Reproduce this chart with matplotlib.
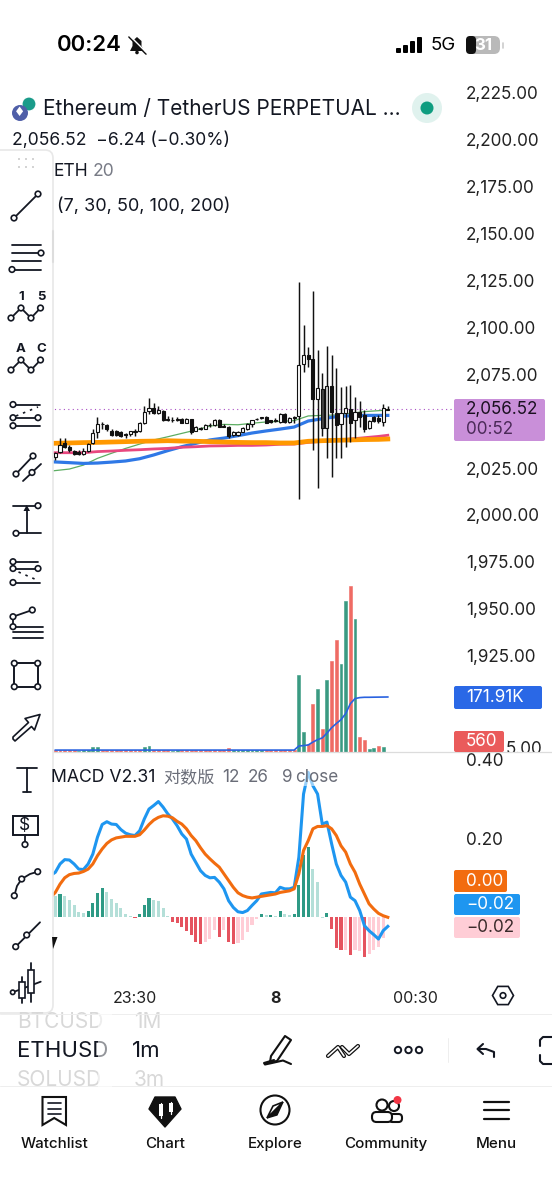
import numpy as np
import matplotlib
matplotlib.use("Agg")
import matplotlib.pyplot as plt
from matplotlib.patches import Circle, Rectangle, FancyBboxPatch, Polygon, RegularPolygon

plt.rcParams['font.family'] = ['Inter', 'Noto Sans CJK SC', 'DejaVu Sans']

# ---------- price data ----------
opens = [2031.1,2033.4,2038.2,2036.4,2034.1,2033.4,2032.5,2034.3,2038.2,2044.1,2048.3,2048.0,2045.0,2044.6,2044.2,2043.2,2043.2,2044.4,
         2044.6,2049.2,2055.4,2057.2,2054.2,2055.4,2051.2,2050.8,2050.8,2051.0,2049.2,2051.0,2045.0,2046.2,2046.0,2047.8,2047.8,2050.6,
         2047.6,2047.1,2042.5,2042.8,2044.4,2046.0,2048.3,2051.0,2051.7,2052.2,2050.4,2050.1,2049.7,2053.7,2049.7,2052.2,2052.8,2080.3,
         2085.3,2083.0,2061.6,2067.2,2046.2,2068.8,2054.2,2048.3,2054.5,2056.3,2050.6,2055.1,2053.3,2046.2,2052.1,2051.9,2049.7,2056.0]
highs = [2033.8,2040.9,2040.9,2037.3,2034.6,2034.6,2035.9,2038.2,2045.7,2052.4,2049.7,2048.5,2045.7,2045.3,2044.8,2043.5,2045.0,2045.7,
         2049.7,2058.1,2062.2,2059.9,2058.1,2056.0,2052.9,2052.4,2052.4,2051.5,2051.5,2051.3,2047.4,2046.7,2048.5,2049.2,2051.2,2051.0,
         2048.5,2047.4,2044.6,2045.0,2047.1,2049.2,2050.8,2051.9,2052.4,2052.8,2050.8,2051.5,2054.2,2054.2,2052.4,2052.8,2124.0,2101.3,
         2089.4,2119.6,2088.0,2075.9,2090.1,2085.3,2078.2,2068.4,2068.8,2069.1,2063.1,2060.9,2056.0,2050.6,2052.8,2053.3,2059.2,2058.1]
lows = [2029.3,2032.9,2035.5,2033.8,2032.0,2031.8,2031.8,2033.8,2037.8,2040.9,2045.7,2045.0,2042.3,2042.1,2041.4,2041.2,2042.3,2042.3,
        2044.1,2048.5,2053.8,2053.8,2053.7,2050.3,2050.1,2049.7,2050.3,2048.9,2048.9,2043.0,2044.6,2045.3,2045.7,2047.1,2047.4,2046.7,
        2046.7,2040.9,2042.1,2042.3,2044.1,2045.3,2047.1,2050.6,2051.0,2048.9,2049.2,2049.6,2048.9,2049.2,2049.2,2049.2,2008.3,2076.4,
        2079.1,2034.6,2014.6,2042.1,2030.2,2020.4,2030.2,2030.2,2036.4,2039.1,2040.9,2047.1,2044.4,2045.7,2049.7,2048.9,2047.4,2056.0]
closes = [2032.9,2037.3,2036.4,2034.6,2032.3,2032.3,2034.3,2037.8,2043.5,2048.5,2048.5,2045.7,2042.6,2042.6,2042.3,2042.8,2044.6,2044.8,
          2049.2,2055.1,2057.2,2054.2,2056.0,2050.6,2050.8,2050.6,2051.2,2049.2,2051.0,2044.4,2046.7,2045.7,2047.8,2048.2,2050.6,2047.1,
          2047.1,2042.1,2044.2,2044.2,2046.2,2048.5,2050.4,2051.2,2051.9,2049.2,2049.6,2050.6,2053.7,2049.7,2051.5,2051.7,2080.0,2085.3,
          2083.0,2061.6,2067.9,2046.2,2068.8,2055.1,2048.0,2054.5,2057.2,2049.2,2055.1,2052.4,2045.7,2050.3,2050.3,2050.3,2056.9,2056.52]

ma_idx = [-1,3,6,9,12,15,18,21,24,27,30,33,36,39,42,45,48,51,54,57,60,63,66,69,71]
ma_green = [2023.4,2024.5,2026.6,2030.2,2032.9,2035.5,2037.8,2040.0,2041.7,2043.5,2045.3,2047.4,2048.3,2048.1,2048.9,2049.6,2049.9,2050.3,2052.8,2053.1,2053.3,2054.2,2055.1,2055.6,2056.0]
ma_blue = [2028.4,2027.9,2027.5,2027.7,2028.2,2028.8,2030.0,2032.0,2034.3,2036.4,2038.2,2040.0,2041.0,2042.3,2043.7,2044.8,2045.8,2046.9,2050.1,2051.3,2052.4,2052.9,2053.1,2053.1,2053.1]
ma_pink = [2033.2,2033.2,2033.2,2033.8,2034.1,2034.5,2034.8,2035.2,2035.5,2036.1,2036.4,2036.8,2036.9,2037.1,2037.1,2037.3,2037.7,2037.8,2038.7,2039.3,2039.8,2040.5,2041.2,2041.9,2042.5]
ma_orange = [2038.2,2038.4,2038.6,2038.7,2038.9,2039.1,2039.3,2039.4,2039.6,2039.4,2039.3,2039.1,2038.9,2038.7,2038.6,2038.6,2038.4,2038.4,2039.3,2039.6,2039.8,2040.0,2040.2,2040.3,2040.5]

price_ticks = [2225,2200,2175,2150,2125,2100,2075,2025,2000,1975,1950,1925]

# ---------- volume data (thousands) ----------
volume = [6,6,6,6,6,3,5,6,16,17,6,6,6,6,6,6,6,6,6,17,20,6,6,6,6,3,5,6,6,6,6,6,6,6,6,6,6,11,6,6,5,5,5,5,5,5,5,5,5,5,5,5,
          240,62,26,149,197,73,226,283,349,276,471,519,417,47,36,10,13,19,17,0.56]
vol_dir = "RRRRRGGGGGRRRRRRRRRGGRRRRGGRRRRRRRRRRRGGGGGGGRRRRRRR"[:52] + "GGRRGRGRRGGRGRRGGRGR"
vol_ma = [6]*52 + [18.8,20,22,31,38.6,44,59,76,89,101,120,151,167,170,171,171,171.3,171.5,171.7,171.91]

# ---------- MACD data ----------
macd_line = [.106,.114,.135,.146,.145,.135,.122,.121,.135,.160,.203,.235,.242,.236,.235,.222,.213,.209,.207,.219,.249,.274,.283,.293,.279,.262,.249,.232,.211,.198,
             .160,.139,.118,.106,.100,.101,.089,.072,.042,.025,.014,.012,.017,.030,.042,.059,.061,.063,.062,.076,.072,.072,.076,.152,.312,.367,.333,.312,.236,.241,
             .186,.135,.106,.089,.051,.042,.017,-.021,-.034,-.044,-.055,-.034,-.023]
signal_line = [.051,.063,.084,.100,.108,.111,.112,.116,.122,.135,.156,.173,.187,.196,.201,.203,.205,.205,.205,.209,.221,.235,.246,.253,.257,.256,.252,.243,.236,.224,
               .207,.194,.176,.160,.148,.137,.127,.110,.093,.076,.062,.055,.051,.049,.051,.053,.055,.057,.059,.063,.065,.067,.072,.110,.169,.194,.224,.230,.230,.232,
               .224,.207,.181,.165,.135,.114,.084,.059,.034,.021,.010,.004,.000]
hist = [.055,.059,.054,.044,.030,.013,.010,.016,.037,.062,.073,.065,.046,.037,.023,.008,.003,-.003,.008,.031,.049,.044,.042,.023,.004,
        -.013,-.015,-.025,-.034,-.045,-.062,-.068,-.062,-.056,-.032,-.049,-.032,-.062,-.068,-.064,-.057,-.036,-.019,-.005,
        .008,.005,.007,.004,.015,.008,.006,.008,.082,.158,.179,.122,.090,-.001,.010,
        -.030,-.078,-.083,-.083,-.095,-.083,-.085,-.100,-.093,-.083,-.074,-.053,-.003]
hist_kind = list("gGggggg" "GGGG" "gggggg" "R" "GGG" "gggg" "RRRRRRR" "rrr" "R" "r" "RR" "rrrrr" "GgGgGgg" "GGGG" "gg" "g" "G" "RRR" "r" "R" "rr" "R" "rrrrr")
macd_ticks = [0.40, 0.20]
time_ticks = [17, 47, 77]
time_labels = ['23:30', '8', '00:30']

W, H = 552, 1200
fig = plt.figure(figsize=(W/100, H/100), dpi=100, facecolor='white')

def rect(top, bottom):
    return [0, 1-bottom/H, 1, (bottom-top)/H]

XL = (-11.82, 106.06)
idx = np.arange(len(opens))
TS = 12.3

# ---------- volume pane ----------
av = fig.add_axes(rect(60, 752), zorder=1)
av.set_xlim(XL); av.set_ylim(0, 692*3.125); av.axis('off')
vcol = ['#3a9a82' if d == 'G' else '#ef6b64' for d in vol_dir]
av.bar(idx, volume, width=0.62, color=vcol, edgecolor=vcol, linewidth=0.4)
av.plot(idx, vol_ma, color='#2962e0', lw=1.2)

# ---------- price pane ----------
ap = fig.add_axes(rect(60, 752), zorder=2)
ap.patch.set_alpha(0)
ap.set_xlim(XL); ap.set_ylim(2000+(515-752)/1.876, 2000+(515-60)/1.876)
for s in ap.spines.values(): s.set_visible(False)
ap.set_xticks([])
ap.set_yticks(price_ticks)
ap.set_yticklabels([f'{p:,.2f}' for p in price_ticks], fontsize=TS, color='#222222')
ap.yaxis.tick_right()
ap.tick_params(axis='y', length=0, pad=-62)
ap.text(96.2, 1875, '5.00', fontsize=TS, color='#222222', va='center', ha='left')
ap.plot(ma_idx, ma_green, color='#5cad62', lw=0.9, zorder=2)
ap.plot(ma_idx, ma_blue, color='#2f78e6', lw=2.3, zorder=3)
ap.plot(ma_idx, ma_pink, color='#e8487f', lw=2.0, zorder=4)
ap.plot(ma_idx, ma_orange, color='#ff9800', lw=3.4, zorder=5)
ap.axhline(closes[-1], xmin=0.09, xmax=0.83, color='#a94fc4', lw=0.8, ls=(0, (1, 3)), zorder=1)
ap.vlines(idx, lows, highs, color='#111111', lw=1.05, zorder=6)
bot = np.minimum(opens, closes); top = np.maximum(opens, closes)
fc = ['white' if c >= o else '#111111' for o, c in zip(opens, closes)]
fc[58] = '#c8c8c8'; fc[57] = '#444444'
ap.bar(idx, np.maximum(top-bot, 0.3), bottom=bot, width=0.66, color=fc, edgecolor='#111111', linewidth=0.8, zorder=7)

# ---------- MACD pane ----------
am = fig.add_axes(rect(752, 985), zorder=3)
am.set_xlim(XL); am.set_ylim((917.3-985)/395, (917.3-752)/395)
am.set_facecolor('white')
for k, s in am.spines.items(): s.set_visible(k == 'top')
am.spines['top'].set_color('#dcdcdc'); am.spines['top'].set_linewidth(0.9)
hc = {'G': '#2e9a85', 'g': '#b4dfd8', 'R': '#e5535f', 'r': '#ffcdd6'}
am.bar(idx, hist, width=0.66, color=[hc[k] for k in hist_kind])
mx = np.arange(len(macd_line)) - 1
am.plot(mx, macd_line, color='#1e96f0', lw=2.2, solid_joinstyle='round')
am.plot(mx, signal_line, color='#f26c0f', lw=2.2, solid_joinstyle='round')
am.set_yticks(macd_ticks); am.set_yticklabels(['0.40', '0.20'], fontsize=TS, color='#222222')
am.yaxis.tick_right(); am.tick_params(axis='y', length=0, pad=-62)
am.set_xticks(time_ticks); am.set_xticklabels(time_labels, fontsize=11.5, color='#222222')
am.tick_params(axis='x', length=0, pad=4)
am.get_xticklabels()[1].set_fontweight('bold')

# ---------- interface overlay ----------
ui = fig.add_axes([0, 0, 1, 1], zorder=10)
ui.set_xlim(0, W); ui.set_ylim(H, 0); ui.axis('off'); ui.patch.set_alpha(0)
K = '#131722'

def L(xs, ys, lw=1.3, c=K, **kw):
    ui.plot(xs, ys, color=c, lw=lw, solid_capstyle='round', **kw)
def C(x, y, r=2.8, lw=1.2, ec=K, fc='white', z=5):
    ui.add_patch(Circle((x, y), r, fc=fc, ec=ec, lw=lw, zorder=z))
def T(x, y, s, size=12, c=K, ha='left', w='normal', va='center', **kw):
    return ui.text(x, y, s, fontsize=size, color=c, ha=ha, va=va, fontweight=w, **kw)
def box(x0, y0, x1, y1, fc, r=2, ec='none', lw=0, z=2):
    ui.add_patch(FancyBboxPatch((x0+r, y0+r), x1-x0-2*r, y1-y0-2*r, boxstyle=f'round,pad={r},rounding_size={r}',
                                fc=fc, ec=ec, lw=lw, zorder=z))

# status bar
T(57, 45, '00:24', 16, '#000000', w='semibold')
bx = 137
ui.add_patch(Polygon([(bx-7, 51), (bx-4.5, 46), (bx-4.5, 41), (bx, 37), (bx+4.5, 41), (bx+4.5, 46), (bx+7, 51)], fc='#111111', ec='none'))
L([bx-8, bx+9], [37, 54], 1.2, '#111111'); L([bx-7, bx+10], [36, 53], 1.0, 'white')
C(bx, 52.5, 1.8, 0, fc='#111111')
for i, (x, h) in enumerate(zip([396, 403, 410, 417], [5, 8, 12, 16])):
    box(x, 53-h, x+5, 53, '#000000', r=1)
T(431, 46, '5G', 13.5, '#000000')
box(466, 36, 500, 54, '#b9b9b9', r=6)
box(466, 36, 476, 54, '#111111', r=4)
T(483, 45, '31', 12, 'white', ha='center', w='bold')
L([503, 503], [43, 48], 1.2, '#cccccc')

# title block
C(20, 113, 8, 0, fc='#4f5fa8'); C(29, 104, 7, 0.8, ec='white', fc='#1a9b8a', z=4)
T(20, 113, '♦', 9, 'white', ha='center', family='DejaVu Sans', zorder=6)
T(43, 109, 'Ethereum / TetherUS PERPETUAL ...', 15.0)
C(427, 108, 15, 0, fc='#e0f2ee'); C(427, 108, 6.5, 0, fc='#0f9d80')
T(12, 140, '2,056.52  −6.24 (−0.30%)', 12.6)
T(53.5, 171, 'ETH', 12.6); T(93, 171, '20', 12.6, '#787b86')
T(57, 206, '(7, 30, 50, 100, 200)', 13)

# left toolbar
box(-10, 150, 53, 1013, 'white', r=8, ec='#e8e8e8', lw=1.2, z=2)
L([53, 53], [231, 262], 1.5, '#dddddd')
for x in (19, 26, 33):
    for y in (159, 167):
        C(x, y, 0.9, 0, fc='#bcbcbc')
def seg(*pts, lw=1.3):
    L([p[0] for p in pts], [p[1] for p in pts], lw)
seg((14, 218), (38, 194)); C(14, 218); C(38, 194)
for y in (244.5, 252.8, 261, 269.5): seg((12, y), (41, y))
C(41, 253); C(12, 269.5)
for yb, yt, labs, ty in ((318, 308, ('1', '5'), 296.5), (370, 360, ('A', 'C'), 349)):
    xs = [11, 21, 31, 40.5]; ys = [yb, yt, yb, yt]
    seg(*zip(xs, ys))
    for a, b in zip(xs, ys): C(a, b)
    T(21, ty, labs[0], 9.5, ha='center', w='bold'); T(41.5, ty, labs[1], 9.5, ha='center', w='bold')
seg((13, 404.5), (39.5, 404.5)); C(13, 404.5)
seg((13, 417.7), (38, 417.7)); C(13, 417.7); C(38, 417.7)
seg((13, 425.7), (40, 425.7)); C(13, 425.7)
L([16, 38], [416, 407], 1.2, ls=(0, (1.5, 3)))
seg((16, 474), (33, 456)); C(16, 474); C(33, 456)
seg((23, 481), (41, 464)); C(32, 472.5)
seg((13, 505.7), (38, 505.7)); C(38, 505.7)
seg((16, 533.3), (41, 533.3)); C(16, 533.3)
seg((26.7, 533), (26.7, 510))
ui.add_patch(Polygon([(26.7, 505), (23.5, 511), (30, 511)], fc=K, ec='none', zorder=4))
seg((13, 561.7), (38, 561.7)); C(13, 561.7)
seg((13, 568.5), (38, 568.5)); C(13, 568.5); C(38, 568.5)
seg((13, 582.5), (39.5, 582.5)); C(13, 582.5)
L([18.5, 37], [572, 580], 1.2, ls=(0, (1.5, 3)))
seg((13, 616.7), (32.3, 610)); seg((13, 616.7), (13, 626.7)); C(32.3, 610); C(13, 616.7); C(13, 626.7)
for y in (626.7, 631.7, 637.7): seg((13, y), (42.7, y))
ui.add_patch(Rectangle((14.3, 663.3), 23.4, 23.4, fc='none', ec=K, lw=1.4))
for a in (14.3, 37.7):
    for b in (663.3, 686.7): C(a, b)
ui.add_patch(Polygon([(13, 739), (15, 741), (31.5, 726.5), (34.5, 730), (40, 714.5), (25, 718.5), (28.5, 722.5), (13, 737)],
                     fc='white', ec=K, lw=1.2, joinstyle='round'))
seg((17, 767.7), (37.3, 767.7)); seg((27, 767.7), (27, 791.7)); seg((23.3, 791.7), (30.7, 791.7))
ui.add_patch(Rectangle((12.7, 816), 25, 19, fc='white', ec=K, lw=1.4))
T(25, 825.5, '$', 12.5, ha='center', zorder=6)
seg((25, 835), (25, 841)); C(25, 844.5)
seg((14.3, 895.7), (17, 886), (21.7, 879), (30, 874), (37.7, 871.7))
C(14.3, 895.7); C(21.7, 879); C(37.7, 871.7)
seg((15.7, 946.7), (40, 922.3)); C(15.7, 946.7); C(26.7, 935)
seg((12.7, 992.3), (40.7, 981.7)); C(12.7, 992.3, 2.2)
seg((21.7, 976.7), (21.7, 1003.3)); seg((31, 963.3), (31, 1001.7))
ui.add_patch(Rectangle((19, 982.3), 5.5, 16, fc='white', ec=K, lw=1.2, zorder=5))
ui.add_patch(Rectangle((28.2, 970), 5.5, 23.3, fc='white', ec=K, lw=1.2, zorder=5))

# legend & stray marker on MACD pane
T(51, 777, 'MACD V2.31', 12.7, zorder=6)
T(163, 777, '对数版', 12.3, '#6a6d78', family=['Noto Sans CJK SC', 'DejaVu Sans'], zorder=6)
T(222, 777, '12', 12.3, '#6a6d78'); T(248, 777, '26', 12.3, '#6a6d78'); T(282, 777, '9', 12.3, '#6a6d78')
ui.add_patch(Rectangle((299, 768), 40, 18, fc='white', ec='none', alpha=0.55, zorder=4))
T(295, 777, 'close', 12.3, '#6a6d78', zorder=6)
ui.add_patch(Polygon([(52, 937), (57.5, 937), (53, 949)], fc='#111111', ec='none', zorder=3))

# price tags
box(454, 399, 545, 441, '#c98fd9', r=2)
T(466, 409.5, '2,056.52', TS, '#1a1020', zorder=6); T(466, 429.5, '00:52', TS, '#4b2a58', zorder=6)
box(454, 686, 542, 709, '#2a68e6', r=2); T(466, 697.5, '171.91K', TS, 'white', zorder=6)
box(454, 731, 504, 752, '#ea5b5b', r=2); T(466, 741.5, '560', TS, 'white', zorder=6)
box(454, 870, 507, 892, '#f26c0f', r=2); T(466, 881, '0.00', TS, 'white', zorder=6)
box(454, 894, 520, 915, '#1e96f0', r=2); T(466, 904.5, '−0.02', TS, 'white', zorder=6)
box(454, 917, 520, 938, '#ffcdd6', r=2); T(466, 928, '−0.02', TS, '#3a2a2a', zorder=6)
ui.add_patch(RegularPolygon((503, 995.5), 6, radius=10.5, orientation=np.pi/2, fc='white', ec=K, lw=1.2))
C(503, 995.5, 2.8, 1.2)

# symbol strip
L([0, 552], [1014, 1014], 0.7, '#eeeeee'); L([0, 552], [1086, 1086], 0.7, '#eeeeee')
T(17, 1022, 'BTCUSD', 15, '#d8d8d8'); T(134, 1022, '1M', 15, '#d8d8d8')
T(17, 1051, 'ETHUSD', 16); T(132, 1051, '1m', 16)
T(17, 1080, 'SOLUSD', 15, '#d8d8d8'); T(134, 1080, '3m', 15, '#d8d8d8')
ui.add_patch(Rectangle((98, 1012), 14, 76, fc='white', ec='none', alpha=0.55, zorder=6))
ui.add_patch(Polygon([(271, 1056), (285, 1036), (291, 1040), (277, 1061), (270, 1062)], fc='white', ec='#111111', lw=1.5, joinstyle='round'))
L([274, 264, 265, 272, 283, 291], [1060, 1063, 1064.5, 1063, 1060.5, 1064], 1.5, '#111111')
L([328, 338, 344], [1056, 1047, 1056], 3.0, '#111111'); L([328, 338, 344], [1056, 1047, 1056], 1.2, 'white')
L([342, 349, 358], [1047, 1054, 1046], 3.0, '#111111'); L([342, 349, 358], [1047, 1054, 1046], 1.2, 'white')
for x in (398, 408.5, 419): C(x, 1050, 3.2, 1.4)
L([448, 448], [1038, 1062], 0.7, '#eeeeee')
L([478, 486, 494, 494], [1049, 1049, 1052, 1057], 1.5); L([483, 477.5, 483], [1044, 1049, 1054], 1.5)
L([552, 543, 540, 540], [1037, 1037, 1040, 1046], 1.5); L([552, 543, 540, 540], [1064, 1064, 1061, 1055], 1.5)

# tab bar
ui.add_patch(Polygon([(42.5, 1097), (66, 1097), (66, 1125), (54.2, 1118), (42.5, 1125)], fc='white', ec='#111111', lw=1.5))
for y in (1103, 1108.5, 1114): L([48, 60.5], [y, y], 1.2)
ui.add_patch(Polygon([(155, 1097), (175, 1097), (181, 1109), (165, 1127), (149, 1109)], fc='#111111', ec='#111111', joinstyle='round'))
for x, a, b in ((161, 1104, 1116), (171, 1103, 1112)):
    L([x, x], [a-1.5, b+1.5], 0.9, 'white')
    ui.add_patch(Rectangle((x-1.8, a), 3.6, b-a, fc='white', ec='none', zorder=5))
C(275, 1110, 14.5, 1.5, ec='#111111', z=3)
ui.add_patch(Polygon([(267, 1118), (283, 1102), (277, 1115)], fc='#111111', ec='#111111', zorder=4))
ui.add_patch(Polygon([(267, 1118), (273, 1106), (283, 1102)], fc='white', ec='#111111', lw=1.2, zorder=4))
C(382, 1105, 5.5, 1.5, ec='#111111'); C(394, 1106, 5, 1.5, ec='#111111', z=3)
box(372, 1112, 392, 1122, 'white', r=4.5, ec='#111111', lw=1.5, z=4)
box(389, 1114, 402, 1122, 'white', r=3.5, ec='#111111', lw=1.5, z=3)
C(397.5, 1100, 4, 0, fc='#f23645', z=6)
for y in (1102, 1110, 1119): L([484, 509], [y, y], 1.6, '#111111')
for x, s in ((54.6, 'Watchlist'), (165, 'Chart'), (275, 'Explore'), (386, 'Community'), (496.5, 'Menu')):
    T(x, 1148, s, 10.9, '#111111', ha='center', w='medium', va='baseline')

# icons sit above the toolbar panel
for p in ui.patches:
    if p.get_zorder() == 1:
        p.set_zorder(3)
for l in ui.lines:
    l.set_zorder(4)

fig.savefig('out.png', dpi=100)
